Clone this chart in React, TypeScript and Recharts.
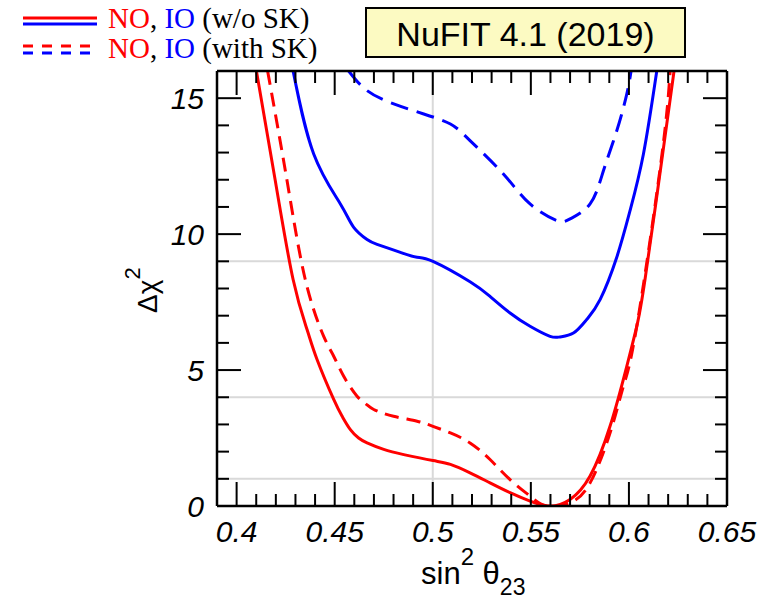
import { LineChart, Line, XAxis, YAxis, ReferenceLine } from "recharts";

// Δχ² vs sin²θ23, NuFIT 4.1
const noPlainX = [0.4101, 0.4197, 0.4288, 0.4359, 0.441, 0.4495, 0.4538, 0.458, 0.4622, 0.4665, 0.475, 0.4852, 0.5001, 0.509, 0.519, 0.5292, 0.5394, 0.5496, 0.5598, 0.57, 0.5802, 0.5904, 0.5989, 0.604, 0.6082, 0.6168, 0.623];
const noPlainY = [16, 11.97, 8.33, 6.49, 5.39, 3.92, 3.3, 2.81, 2.5, 2.32, 2.08, 1.89, 1.67, 1.53, 1.22, 0.85, 0.49, 0.18, 0, 0.24, 1.1, 2.94, 5.14, 6.61, 8.33, 12.74, 16];

const noSkX = [0.4158, 0.4257, 0.435, 0.4444, 0.4495, 0.4546, 0.4614, 0.4656, 0.4699, 0.48, 0.492, 0.5001, 0.509, 0.519, 0.5292, 0.5394, 0.5496, 0.5581, 0.57, 0.5802, 0.5904, 0.5972, 0.604, 0.6165, 0.621];
const noSkY = [16, 11.97, 8.33, 6.24, 5.51, 4.77, 4.04, 3.77, 3.55, 3.3, 3.12, 2.93, 2.69, 2.32, 1.71, 0.97, 0.36, 0, 0.12, 0.85, 2.69, 4.41, 6.61, 12.74, 16];

const ioPlainX = [0.4288, 0.4393, 0.4529, 0.4597, 0.4665, 0.4716, 0.4835, 0.492, 0.5001, 0.519, 0.5292, 0.5394, 0.5496, 0.5598, 0.5649, 0.5717, 0.5785, 0.5853, 0.5938, 0.6006, 0.6074, 0.6142];
const ioPlainY = [16, 12.95, 11.11, 10.25, 9.8, 9.62, 9.33, 9.15, 9.0, 8.25, 7.71, 7.1, 6.61, 6.24, 6.22, 6.36, 6.86, 7.59, 9.15, 10.87, 12.95, 16];

const ioSkX = [0.4571, 0.4665, 0.4801, 0.4954, 0.509, 0.519, 0.536, 0.5496, 0.5632, 0.57, 0.5802, 0.587, 0.5938, 0.5989, 0.6011];
const ioSkY = [16, 15.28, 14.79, 14.42, 14.05, 13.44, 12.21, 11.11, 10.5, 10.56, 11.11, 12.33, 13.8, 15.15, 16];

const xTicks = [0.4, 0.41, 0.42, 0.43, 0.44, 0.45, 0.46, 0.47, 0.48, 0.49, 0.5, 0.51, 0.52, 0.53, 0.54, 0.55, 0.56, 0.57, 0.58, 0.59, 0.6, 0.61, 0.62, 0.63, 0.64, 0.65];
const xLabels = [0.4, 0.45, 0.5, 0.55, 0.6, 0.65];
const yTicks = [0, 1, 2, 3, 4, 5, 6, 7, 8, 9, 10, 11, 12, 13, 14, 15];
const yLabels = [0, 5, 10, 15];
const sigmaLevels = [1, 4, 9];

const zip = (xs: number[], ys: number[]) => xs.map((x, i) => ({ x, y: ys[i] }));

const RED = "#ff0000";
const BLUE = "#0000ff";
const TICK_FONT = "'Liberation Sans', Arial, Helvetica, sans-serif";

const isMajor = (v: number, list: number[]) => list.some((m) => Math.abs(m - v) < 1e-6);

const BottomTick = (props: any) => {
  const { x, y, payload } = props;
  const major = isMajor(payload.value, xLabels);
  return (
    <g>
      <line x1={x} x2={x} y1={y} y2={y - (major ? 24 : 12)} stroke="#000" strokeWidth={2} />
      {major && (
        <text x={x} y={y + 36} textAnchor="middle" fontSize={30} fontStyle="italic" fontFamily={TICK_FONT} fill="#000">
          {payload.value}
        </text>
      )}
    </g>
  );
};

const TopTick = (props: any) => {
  const { x, y, payload } = props;
  const major = isMajor(payload.value, xLabels);
  return <line x1={x} x2={x} y1={y} y2={y + (major ? 24 : 12)} stroke="#000" strokeWidth={2} />;
};

const LeftTick = (props: any) => {
  const { x, y, payload } = props;
  const major = isMajor(payload.value, yLabels);
  return (
    <g>
      <line x1={x} x2={x + (major ? 24 : 12)} y1={y} y2={y} stroke="#000" strokeWidth={2} />
      {major && (
        <text x={x - 13} y={y + 11} textAnchor="end" fontSize={30} fontStyle="italic" fontFamily={TICK_FONT} fill="#000">
          {payload.value}
        </text>
      )}
    </g>
  );
};

const RightTick = (props: any) => {
  const { x, y, payload } = props;
  const major = isMajor(payload.value, yLabels);
  return <line x1={x} x2={x - (major ? 24 : 12)} y1={y} y2={y} stroke="#000" strokeWidth={2} />;
};

export default function App() {
  const serif = "'Liberation Serif', 'Times New Roman', serif";
  return (
    <div style={{ position: "absolute", left: 0, top: 0, width: 760, height: 602, background: "#fff" }}>
      <div style={{ position: "absolute", left: 0, top: 0 }}>
        <LineChart width={760} height={602} margin={{ top: 70, right: 32, bottom: 0, left: 0 }}>
          <XAxis
            xAxisId={0}
            dataKey="x"
            type="number"
            domain={[0.39, 0.65]}
            ticks={xTicks}
            interval={0}
            height={96}
            tickSize={0}
            tickMargin={0}
            tick={BottomTick}
            axisLine={{ stroke: "#000", strokeWidth: 2.5 }}
            allowDataOverflow
          />
          <XAxis
            xAxisId="top"
            orientation="top"
            dataKey="x"
            type="number"
            domain={[0.39, 0.65]}
            ticks={xTicks}
            interval={0}
            height={1}
            tickSize={0}
            tickMargin={0}
            tick={TopTick}
            axisLine={{ stroke: "#000", strokeWidth: 2.5 }}
            allowDataOverflow
          />
          <YAxis
            yAxisId={0}
            type="number"
            domain={[0, 16]}
            ticks={yTicks}
            interval={0}
            width={217}
            tickSize={0}
            tickMargin={0}
            tick={LeftTick}
            axisLine={{ stroke: "#000", strokeWidth: 2.5 }}
            allowDataOverflow
          />
          <YAxis
            yAxisId="right"
            orientation="right"
            type="number"
            domain={[0, 16]}
            ticks={yTicks}
            interval={0}
            width={1}
            tickSize={0}
            tickMargin={0}
            tick={RightTick}
            axisLine={{ stroke: "#000", strokeWidth: 2.5 }}
            allowDataOverflow
          />
          {sigmaLevels.map((v) => (
            <ReferenceLine key={v} y={v} stroke="#d9d9d9" strokeWidth={2} />
          ))}
          <ReferenceLine x={0.5} stroke="#d9d9d9" strokeWidth={2} />
          <Line data={zip(ioSkX, ioSkY)} dataKey="y" type="natural" stroke={BLUE} strokeWidth={3} strokeDasharray="18 9" dot={false} isAnimationActive={false} />
          <Line data={zip(ioPlainX, ioPlainY)} dataKey="y" type="natural" stroke={BLUE} strokeWidth={3} dot={false} isAnimationActive={false} />
          <Line data={zip(noSkX, noSkY)} dataKey="y" type="natural" stroke={RED} strokeWidth={3} strokeDasharray="14 8" dot={false} isAnimationActive={false} />
          <Line data={zip(noPlainX, noPlainY)} dataKey="y" type="natural" stroke={RED} strokeWidth={3} dot={false} isAnimationActive={false} />
        </LineChart>
      </div>
      <svg width={760} height={602} style={{ position: "absolute", left: 0, top: 0, pointerEvents: "none" }}>
        {/* legend */}
        <line x1={23} x2={97} y1={18} y2={18} stroke={RED} strokeWidth={3} />
        <line x1={23} x2={97} y1={24} y2={24} stroke={BLUE} strokeWidth={3} />
        <line x1={23} x2={92} y1={46} y2={46} stroke={RED} strokeWidth={3} strokeDasharray="10 9" />
        <line x1={23} x2={92} y1={53} y2={53} stroke={BLUE} strokeWidth={3} strokeDasharray="10 9" />
        <text x={108} y={28} fontSize={29} fontFamily={serif} fill="#000">
          <tspan fill={RED}>NO</tspan>, <tspan fill={BLUE}>IO</tspan> (w/o SK)
        </text>
        <text x={108} y={58} fontSize={29} fontFamily={serif} fill="#000">
          <tspan fill={RED}>NO</tspan>, <tspan fill={BLUE}>IO</tspan> (with SK)
        </text>
        {/* title box */}
        <rect x={366} y={8} width={319} height={49} fill="#fcfac2" stroke="#000" strokeWidth={2} />
        <text x={525.5} y={46} textAnchor="middle" fontSize={34} fontFamily={TICK_FONT} fill="#000">
          NuFIT 4.1 (2019)
        </text>
        {/* axis titles */}
        <text x={421} y={584} fontSize={31} fontFamily={TICK_FONT} fill="#000">
          sin<tspan fontSize={24} dy={-19}>2</tspan>
          <tspan fontSize={31} dy={19}> θ</tspan>
          <tspan fontSize={23} dy={11}>23</tspan>
        </text>
        <text transform="translate(157,313) rotate(-90)" fontSize={28} fontFamily={TICK_FONT} fill="#000">
          Δχ<tspan fontSize={22} dy={-17}>2</tspan>
        </text>
      </svg>
    </div>
  );
}
